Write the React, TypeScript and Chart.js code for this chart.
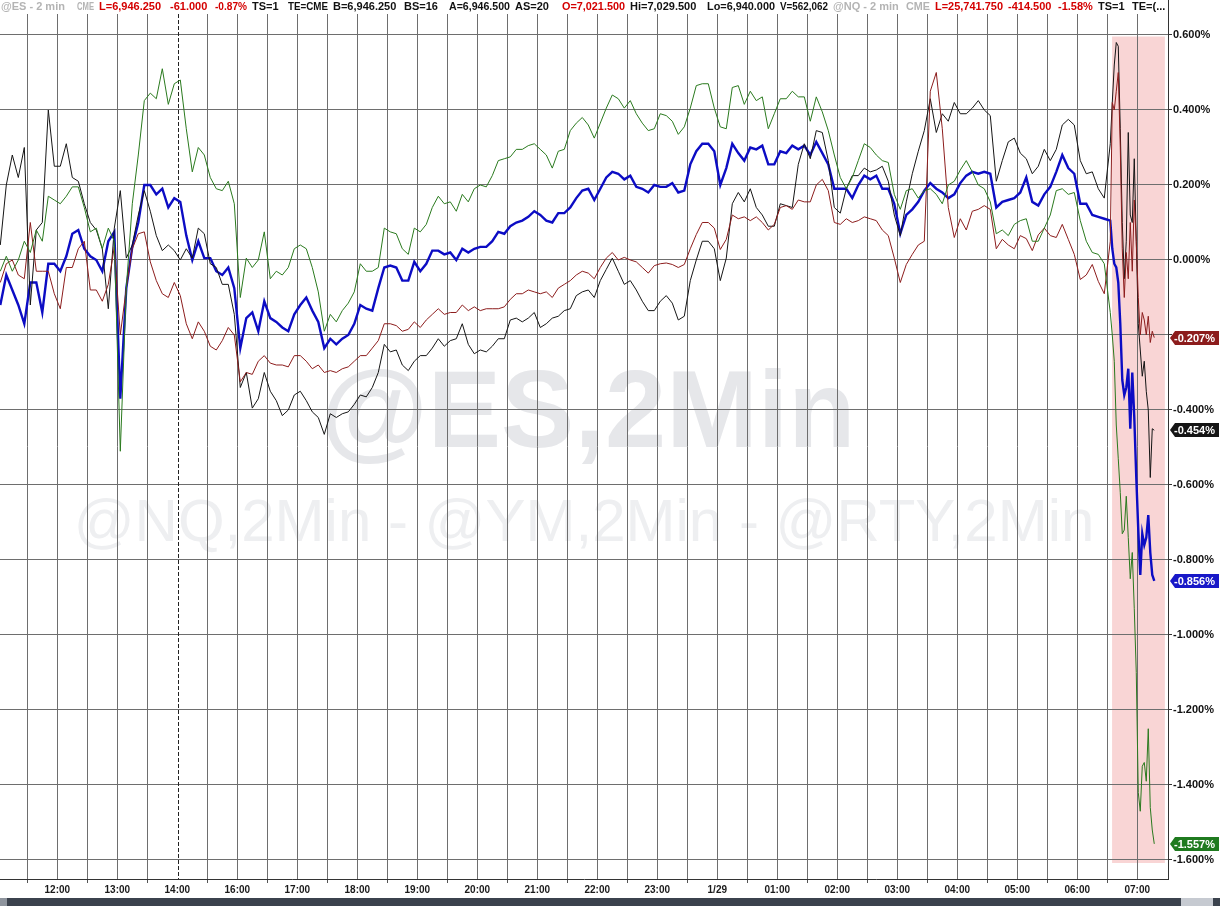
import React, { useEffect, useMemo, useRef } from 'react';
import { Chart, registerables } from 'chart.js';

Chart.register(...registerables);

// ---- sampling grid (session hours: 12 = 12:00 ... 14 = 14:00, 15 = 16:00 after the break, 23 = 1/29 00:00) ----
const COARSE_START = 11.05;
const COARSE_STEP = 0.1; // 6-minute samples
const FINE_STEP = 1 / 30; // 2-minute bars for the final selloff

// ---- series values, % change ----
const ES_COARSE = [
  -0.12, -0.04, -0.08, -0.12, -0.17, -0.06, -0.06, -0.14, -0.01, -0.01,
  -0.03, 0.01, 0.07, 0.08, 0.03, 0.01, 0.0, -0.03, 0.05, 0.075,
  -0.37, -0.075, 0.035, 0.1, 0.2, 0.2, 0.175, 0.19, 0.14, 0.165,
  0.155, 0.065, 0.0, 0.05, 0.005, 0.005, -0.03, -0.04, -0.02, -0.075,
  -0.235, -0.155, -0.14, -0.19, -0.11, -0.155, -0.165, -0.18, -0.19, -0.145,
  -0.12, -0.1, -0.135, -0.165, -0.235, -0.21, -0.225, -0.21, -0.2, -0.17,
  -0.12, -0.13, -0.135, -0.075, -0.02, -0.015, -0.02, -0.055, -0.055, -0.005,
  -0.03, -0.01, 0.025, 0.025, 0.015, 0.02, 0.0, 0.03, 0.02, 0.03,
  0.035, 0.035, 0.05, 0.075, 0.07, 0.09, 0.1, 0.105, 0.115, 0.13,
  0.12, 0.105, 0.1, 0.125, 0.125, 0.14, 0.165, 0.185, 0.19, 0.16,
  0.19, 0.22, 0.235, 0.23, 0.215, 0.225, 0.195, 0.19, 0.18, 0.2,
  0.195, 0.195, 0.205, 0.18, 0.185, 0.255, 0.29, 0.31, 0.31, 0.29,
  0.2, 0.245, 0.31, 0.285, 0.265, 0.3, 0.295, 0.305, 0.255, 0.255,
  0.29, 0.285, 0.305, 0.295, 0.305, 0.28, 0.315, 0.285, 0.255, 0.19,
  0.19, 0.19, 0.165, 0.2, 0.225, 0.215, 0.225, 0.19, 0.19, 0.15,
  0.07, 0.12, 0.135, 0.155, 0.185, 0.205, 0.19, 0.18, 0.165, 0.175,
  0.205, 0.225, 0.235, 0.23, 0.235, 0.23, 0.14, 0.155, 0.16, 0.165,
  0.18, 0.22, 0.155, 0.145, 0.175, 0.195, 0.235, 0.28, 0.245, 0.23,
  0.15, 0.15, 0.12, 0.115, 0.11, 0.105,
];
const ES_FINE = [
  0.03, -0.01, -0.02, -0.06, -0.17, -0.32, -0.36, -0.34, -0.29, -0.45, -0.3,
  -0.42, -0.58, -0.72, -0.84, -0.73, -0.76, -0.74, -0.68, -0.78, -0.84, -0.856,
];

const NQ_COARSE = [
  -0.03, 0.01, -0.03, 0.0, 0.05, 0.02, 0.08, 0.05, 0.17, 0.16,
  0.15, 0.17, 0.195, 0.195, 0.14, 0.075, 0.085, 0.03, 0.085, 0.05,
  -0.51, -0.075, 0.15, 0.28, 0.425, 0.445, 0.43, 0.51, 0.415, 0.47,
  0.48, 0.35, 0.235, 0.3, 0.28, 0.22, 0.19, 0.185, 0.21, 0.15,
  -0.1, 0.005, -0.02, 0.0, 0.075, -0.05, -0.03, -0.04, -0.02, 0.03,
  0.04, 0.03, -0.02, -0.085, -0.19, -0.145, -0.165, -0.135, -0.115, -0.085,
  -0.01, -0.03, -0.03, -0.02, 0.085, 0.075, 0.07, 0.03, 0.015, 0.085,
  0.075, 0.095, 0.14, 0.17, 0.15, 0.155, 0.13, 0.175, 0.155, 0.19,
  0.2, 0.195, 0.225, 0.265, 0.27, 0.275, 0.295, 0.295, 0.305, 0.31,
  0.295, 0.28, 0.245, 0.29, 0.295, 0.345, 0.365, 0.38, 0.36, 0.325,
  0.365, 0.405, 0.44, 0.43, 0.405, 0.425, 0.39, 0.365, 0.345, 0.35,
  0.39, 0.385, 0.37, 0.335, 0.355, 0.405, 0.465, 0.47, 0.47, 0.405,
  0.355, 0.35, 0.46, 0.465, 0.415, 0.45, 0.425, 0.435, 0.35, 0.39,
  0.43, 0.43, 0.45, 0.435, 0.435, 0.37, 0.435, 0.395, 0.345, 0.28,
  0.22, 0.19, 0.22, 0.265, 0.31, 0.3, 0.28, 0.265, 0.26, 0.175,
  0.135, 0.185, 0.19, 0.165, 0.185, 0.19, 0.175, 0.15, 0.2, 0.21,
  0.24, 0.265, 0.235, 0.2, 0.19, 0.155, 0.07, 0.08, 0.065, 0.095,
  0.105, 0.11, 0.05, 0.05, 0.085, 0.12, 0.185, 0.19, 0.175, 0.18,
  0.105, 0.05, 0.02, 0.015, -0.01, -0.14,
];
const NQ_FINE = [
  -0.2, -0.27, -0.44, -0.53, -0.62, -0.73, -0.72, -0.63, -0.74, -0.85, -0.78,
  -0.93, -1.1, -1.42, -1.47, -1.35, -1.34, -1.39, -1.25, -1.46, -1.52, -1.557,
];

const YM_COARSE = [
  0.04, 0.2, 0.28, 0.22, 0.3, -0.12, 0.08, 0.1, 0.4, 0.25,
  0.25, 0.31, 0.22, 0.21, 0.15, 0.1, 0.08, 0.03, -0.13, 0.085,
  0.185, 0.005, 0.04, 0.12, 0.185, 0.13, 0.065, 0.025, 0.04, 0.025,
  0.0, 0.03, 0.005, 0.085, 0.07, -0.01, -0.02, -0.065, -0.065, -0.145,
  -0.34, -0.3, -0.395, -0.37, -0.3, -0.35, -0.375, -0.415, -0.4, -0.36,
  -0.35, -0.375, -0.405, -0.42, -0.465, -0.41, -0.42, -0.41, -0.405, -0.385,
  -0.36, -0.365, -0.34, -0.3, -0.225, -0.245, -0.24, -0.28, -0.295, -0.27,
  -0.255, -0.255, -0.235, -0.21, -0.23, -0.215, -0.21, -0.17, -0.225, -0.25,
  -0.24, -0.245, -0.23, -0.21, -0.21, -0.16, -0.155, -0.165, -0.155, -0.14,
  -0.18, -0.17, -0.155, -0.15, -0.135, -0.13, -0.095, -0.085, -0.08, -0.1,
  -0.055, -0.025, 0.005, -0.03, -0.065, -0.055, -0.08, -0.11, -0.135, -0.135,
  -0.11, -0.095, -0.115, -0.16, -0.15, -0.055, 0.0, 0.05, 0.05, 0.03,
  -0.055, 0.005, 0.15, 0.18, 0.155, 0.19, 0.14, 0.12, 0.09, 0.09,
  0.15, 0.145, 0.14, 0.255, 0.31, 0.27, 0.345, 0.34, 0.265, 0.14,
  0.125, 0.19, 0.225, 0.225, 0.245, 0.235, 0.24, 0.25, 0.21, 0.12,
  0.065, 0.155, 0.23, 0.29, 0.345, 0.43, 0.34, 0.39, 0.37, 0.42,
  0.39, 0.39, 0.405, 0.425, 0.4, 0.385, 0.21, 0.265, 0.315, 0.325,
  0.285, 0.27, 0.23, 0.25, 0.295, 0.265, 0.295, 0.36, 0.375, 0.36,
  0.265, 0.23, 0.235, 0.19, 0.165, 0.31,
];
const YM_FINE = [
  0.42, 0.52, 0.58, 0.57, 0.35, 0.1, -0.05, 0.05, 0.34, 0.12, 0.1,
  0.27, 0.05, -0.17, -0.24, -0.31, -0.27, -0.35, -0.4, -0.58, -0.45, -0.454,
];

const RTY_COARSE = [
  -0.06, -0.01, 0.0, -0.04, -0.05, 0.1, -0.03, -0.03, -0.03, -0.09,
  -0.13, -0.02, -0.02, 0.03, 0.05, -0.08, -0.08, -0.11, -0.065, 0.035,
  -0.2, -0.075, 0.03, 0.07, 0.075, -0.005, -0.055, -0.09, -0.1, -0.06,
  -0.095, -0.17, -0.21, -0.165, -0.19, -0.23, -0.24, -0.215, -0.18, -0.2,
  -0.325, -0.3, -0.305, -0.27, -0.255, -0.275, -0.28, -0.28, -0.285, -0.255,
  -0.255, -0.27, -0.29, -0.28, -0.3, -0.295, -0.3, -0.29, -0.285, -0.27,
  -0.255, -0.255, -0.235, -0.215, -0.17, -0.17, -0.175, -0.19, -0.185, -0.165,
  -0.18, -0.16, -0.145, -0.13, -0.145, -0.14, -0.14, -0.12, -0.135, -0.125,
  -0.135, -0.13, -0.13, -0.13, -0.125, -0.105, -0.09, -0.09, -0.08, -0.085,
  -0.09, -0.085, -0.1, -0.075, -0.065, -0.055, -0.04, -0.03, -0.035, -0.05,
  -0.02, 0.005, 0.02, 0.0, 0.007, 0.0, -0.005, -0.02, -0.035, -0.015,
  -0.01, -0.008, -0.012, -0.02, -0.012, 0.03, 0.068, 0.1, 0.1, 0.085,
  0.028, 0.055, 0.12, 0.11, 0.115, 0.105, 0.115, 0.1, 0.08, 0.095,
  0.14, 0.145, 0.135, 0.16, 0.155, 0.155, 0.2, 0.215, 0.185, 0.1,
  0.095, 0.11, 0.1, 0.105, 0.115, 0.11, 0.105, 0.08, 0.065, 0.005,
  -0.06, -0.012, 0.015, 0.04, 0.05, 0.45, 0.5, 0.35, 0.14, 0.06,
  0.11, 0.08, 0.13, 0.135, 0.145, 0.135, 0.03, 0.055, 0.04, 0.03,
  0.065, 0.057, 0.025, 0.067, 0.085, 0.065, 0.06, 0.095, 0.055, 0.015,
  -0.052, -0.04, -0.012, -0.057, -0.09, 0.05,
];
const RTY_FINE = [
  0.42, 0.4, 0.45, 0.5, 0.3, 0.03, -0.1, 0.02, -0.05, 0.1, -0.03,
  0.16, 0.05, -0.1, -0.2, -0.14, -0.16, -0.2, -0.15, -0.22, -0.19, -0.207,
];

// ---- axes ----
const X_MIN = 11.045;
const X_MAX = 30.512;
const Y_MIN = -1.6507;
const Y_MAX = 0.656;
const Y_TICKS = [0.6, 0.4, 0.2, 0, -0.2, -0.4, -0.6, -0.8, -1.0, -1.2, -1.4, -1.6];
const X_GRID = [
  11.5, 12, 12.5, 13, 13.5, 14, 14.5, 15, 15.5, 16, 16.5, 17, 17.5, 18, 18.5, 19, 19.5,
  20, 20.5, 21, 21.5, 22, 22.5, 23, 23.5, 24, 24.5, 25, 25.5, 26, 26.5, 27, 27.5, 28,
  28.5, 29, 29.5, 30,
];
const X_LABEL_AT = [12, 13, 14, 15, 16, 17, 18, 19, 20, 21, 22, 23, 24, 25, 26, 27, 28, 29, 30];
const X_LABELS = [
  '12:00', '13:00', '14:00', '16:00', '17:00', '18:00', '19:00', '20:00', '21:00', '22:00',
  '23:00', '1/29', '01:00', '02:00', '03:00', '04:00', '05:00', '06:00', '07:00',
];
const SESSION_BREAK = 14;
const HIGHLIGHT = { from: 29.58, to: 30.46, top: 0.596, bottom: -1.608 };

const HEADER_TEXT = [
  '@ES - 2 min', 'CME', 'L=6,946.250', '-61.000', '-0.87%', 'TS=1', 'TE=CME', 'B=6,946.250',
  'BS=16', 'A=6,946.500', 'AS=20', 'O=7,021.500', 'Hi=7,029.500', 'Lo=6,940.000', 'V=562,062',
  '@NQ - 2 min', 'CME', 'L=25,741.750', '-414.500', '-1.58%', 'TS=1', 'TE=(...',
];
const HEADER_X = [
  1, 77, 99, 170, 215, 252, 288, 333, 404, 449, 515, 562, 630, 707, 780, 833, 906, 935, 1008,
  1058, 1098, 1132,
];
const HEADER_KIND = [
  'tag', 'tag', 'red', 'red', 'red', 'txt', 'txt', 'txt', 'txt', 'txt', 'txt', 'red', 'txt',
  'txt', 'txt', 'tag', 'tag', 'red', 'red', 'red', 'txt', 'txt',
];
const HEADER_END = 1166;
const HEADER_COLORS: Record<string, string> = { tag: '#b4b4b4', red: '#d40000', txt: '#111' };

const TIMES = ES_COARSE.map((_, i) => COARSE_START + COARSE_STEP * i).concat(
  ES_FINE.map((_, k) => COARSE_START + COARSE_STEP * (ES_COARSE.length - 1) + FINE_STEP * (k + 1))
);

const toPoints = (coarse: number[], fine: number[]) =>
  coarse.concat(fine).map((v, i) => ({ x: TIMES[i], y: v }));

const fmtPct = (v: number) => {
  const r = Math.round(v * 1000) / 1000;
  return (Object.is(r, -0) ? 0 : r).toFixed(3) + '%';
};

const FONT = '"Liberation Sans", Arial, sans-serif';
const HEADER_FONT = `bold 11px ${FONT}`;
const GRID_COLOR = '#6e6e6e';

const SERIES = [
  { name: 'NQ', coarse: NQ_COARSE, fine: NQ_FINE, color: '#2a7a1e', tag: '#1f7a1f', width: 1 },
  { name: 'RTY', coarse: RTY_COARSE, fine: RTY_FINE, color: '#8c1c1c', tag: '#8c1c1c', width: 1 },
  { name: 'YM', coarse: YM_COARSE, fine: YM_FINE, color: '#151515', tag: '#151515', width: 1 },
  { name: 'ES', coarse: ES_COARSE, fine: ES_FINE, color: '#0c0cc4', tag: '#1818c8', width: 2.4 },
];
const LAST_VALUES = SERIES.map((s) => s.fine[s.fine.length - 1]);

const decorPlugin = {
  id: 'decor',
  beforeDraw(chart: any) {
    const { ctx, chartArea: a, scales } = chart;
    const x = scales.x;
    const y = scales.y;
    ctx.save();
    // highlight box
    ctx.fillStyle = '#f9d5d5';
    const hx0 = x.getPixelForValue(HIGHLIGHT.from);
    const hx1 = x.getPixelForValue(HIGHLIGHT.to);
    const hy0 = y.getPixelForValue(HIGHLIGHT.top);
    const hy1 = y.getPixelForValue(HIGHLIGHT.bottom);
    ctx.fillRect(hx0, hy0, hx1 - hx0, hy1 - hy0);
    // watermarks
    const cx = (a.left + a.right) / 2;
    const h = a.bottom - a.top;
    ctx.textAlign = 'center';
    ctx.textBaseline = 'alphabetic';
    ctx.fillStyle = '#e6e7ea';
    ctx.font = `bold 110px ${FONT}`;
    ctx.fillText('@ES,2Min', cx + 4, a.top + h * 0.5);
    ctx.fillStyle = '#eeeff1';
    ctx.font = `60px ${FONT}`;
    ctx.fillText('@NQ,2Min - @YM,2Min - @RTY,2Min', cx, a.top + h * 0.609);
    ctx.restore();
  },
  beforeDatasetsDraw(chart: any) {
    const { ctx, chartArea: a, scales } = chart;
    const px = Math.round(scales.x.getPixelForValue(SESSION_BREAK)) + 1.5;
    ctx.save();
    ctx.strokeStyle = '#222';
    ctx.lineWidth = 1;
    ctx.setLineDash([4, 2]);
    ctx.beginPath();
    ctx.moveTo(px, a.top);
    ctx.lineTo(px, a.bottom);
    ctx.stroke();
    ctx.restore();
  },
  afterDraw(chart: any) {
    const { ctx, chartArea: a, scales } = chart;
    const y = scales.y;
    ctx.save();
    // right axis line reaching the header strip
    ctx.strokeStyle = '#333';
    ctx.lineWidth = 1;
    ctx.beginPath();
    ctx.moveTo(Math.round(a.right) + 0.5, 0);
    ctx.lineTo(Math.round(a.right) + 0.5, a.bottom + 1);
    ctx.stroke();
    // last value tags
    SERIES.forEach((s, i) => {
      const v = LAST_VALUES[i];
      const py = Math.round(y.getPixelForValue(v));
      const xl = a.right + 2;
      const xr = chart.width - 1;
      ctx.fillStyle = s.tag;
      ctx.beginPath();
      ctx.moveTo(xl, py);
      ctx.lineTo(xl + 5, py - 7);
      ctx.lineTo(xr, py - 7);
      ctx.lineTo(xr, py + 7);
      ctx.lineTo(xl + 5, py + 7);
      ctx.closePath();
      ctx.fill();
      ctx.fillStyle = '#fff';
      ctx.font = `bold 11px ${FONT}`;
      ctx.textAlign = 'left';
      ctx.textBaseline = 'middle';
      ctx.fillText(fmtPct(v), xl + 4, py + 0.5);
    });
    ctx.restore();
  },
};

export default function App() {
  const ref = useRef<HTMLCanvasElement | null>(null);

  // squeeze each header field into the room it has before the next one
  const headerScale = useMemo(() => {
    const c = document.createElement('canvas').getContext('2d');
    if (!c) return HEADER_TEXT.map(() => 1);
    c.font = HEADER_FONT;
    return HEADER_TEXT.map((t, i) => {
      const next = i + 1 < HEADER_X.length ? HEADER_X[i + 1] - 5 : HEADER_END;
      const room = next - HEADER_X[i];
      const w = c.measureText(t).width;
      return w > room ? room / w : 1;
    });
  }, []);

  useEffect(() => {
    const canvas = ref.current;
    if (!canvas) return;
    const chart = new Chart(canvas, {
      type: 'line',
      data: {
        datasets: SERIES.map((s) => ({
          label: s.name,
          data: toPoints(s.coarse, s.fine),
          borderColor: s.color,
          borderWidth: s.width,
          pointRadius: 0,
          tension: 0,
          fill: false,
        })),
      },
      options: {
        animation: false,
        responsive: false,
        devicePixelRatio: 1,
        layout: { padding: { top: 14, left: 0, right: 0, bottom: 0 } },
        plugins: { legend: { display: false }, tooltip: { enabled: false } },
        scales: {
          x: {
            type: 'linear',
            min: X_MIN,
            max: X_MAX,
            afterBuildTicks: (axis: any) => {
              axis.ticks = X_GRID.map((v) => ({ value: v }));
            },
            afterFit: (axis: any) => {
              axis.height = 19;
            },
            grid: {
              color: (c: any) => (c.tick && c.tick.value === SESSION_BREAK ? 'rgba(0,0,0,0)' : GRID_COLOR),
              lineWidth: 1,
              tickLength: 4,
              tickColor: (c: any) => (c.tick && Number.isInteger(c.tick.value) ? 'rgba(0,0,0,0)' : '#555'),
            },
            border: { display: true, color: '#333', width: 1 },
            ticks: {
              autoSkip: false,
              maxRotation: 0,
              minRotation: 0,
              padding: 1,
              color: '#1a1a1a',
              font: { family: FONT, size: 10, weight: 'bold' },
              callback: (v: any) => {
                const idx = X_LABEL_AT.indexOf(Number(v));
                return idx >= 0 ? X_LABELS[idx] : '';
              },
            },
          },
          y: {
            type: 'linear',
            position: 'right',
            min: Y_MIN,
            max: Y_MAX,
            afterBuildTicks: (axis: any) => {
              axis.ticks = Y_TICKS.map((v) => ({ value: v }));
            },
            afterFit: (axis: any) => {
              axis.width = 52;
            },
            grid: { color: GRID_COLOR, lineWidth: 1, tickLength: 4, tickColor: '#333' },
            border: { display: true, color: '#333', width: 1 },
            ticks: {
              padding: 1,
              color: '#111',
              font: { family: FONT, size: 11, weight: 'bold' },
              callback: (v: any) => {
                const n = Number(v);
                // a last-value tag covers the tick label it sits on
                return LAST_VALUES.some((lv) => Math.abs(lv - n) < 0.025) ? '' : fmtPct(n);
              },
            },
          },
        },
      },
      plugins: [decorPlugin],
    } as any);
    return () => chart.destroy();
  }, []);

  return (
    <div
      style={{
        position: 'fixed',
        left: 0,
        top: 0,
        width: 1220,
        height: 906,
        background: '#fff',
        overflow: 'hidden',
      }}
    >
      <canvas
        ref={ref}
        width={1220}
        height={898}
        style={{ position: 'absolute', left: 0, top: 0, width: 1220, height: 898 }}
      />
      {HEADER_TEXT.map((t, i) => (
        <span
          key={i}
          style={{
            position: 'absolute',
            left: HEADER_X[i],
            top: 0,
            lineHeight: '13px',
            font: HEADER_FONT,
            color: HEADER_COLORS[HEADER_KIND[i]],
            whiteSpace: 'pre',
            transform: headerScale[i] < 1 ? `scaleX(${headerScale[i]})` : undefined,
            transformOrigin: 'left center',
          }}
        >
          {t}
        </span>
      ))}
      <div style={{ position: 'absolute', left: 0, top: 898, width: 1220, height: 8, background: '#3b424d' }} />
      <div style={{ position: 'absolute', left: 0, top: 898, width: 7, height: 8, background: '#8e949d' }} />
      <div style={{ position: 'absolute', left: 1181, top: 898, width: 32, height: 8, background: '#c6cad1' }} />
    </div>
  );
}
